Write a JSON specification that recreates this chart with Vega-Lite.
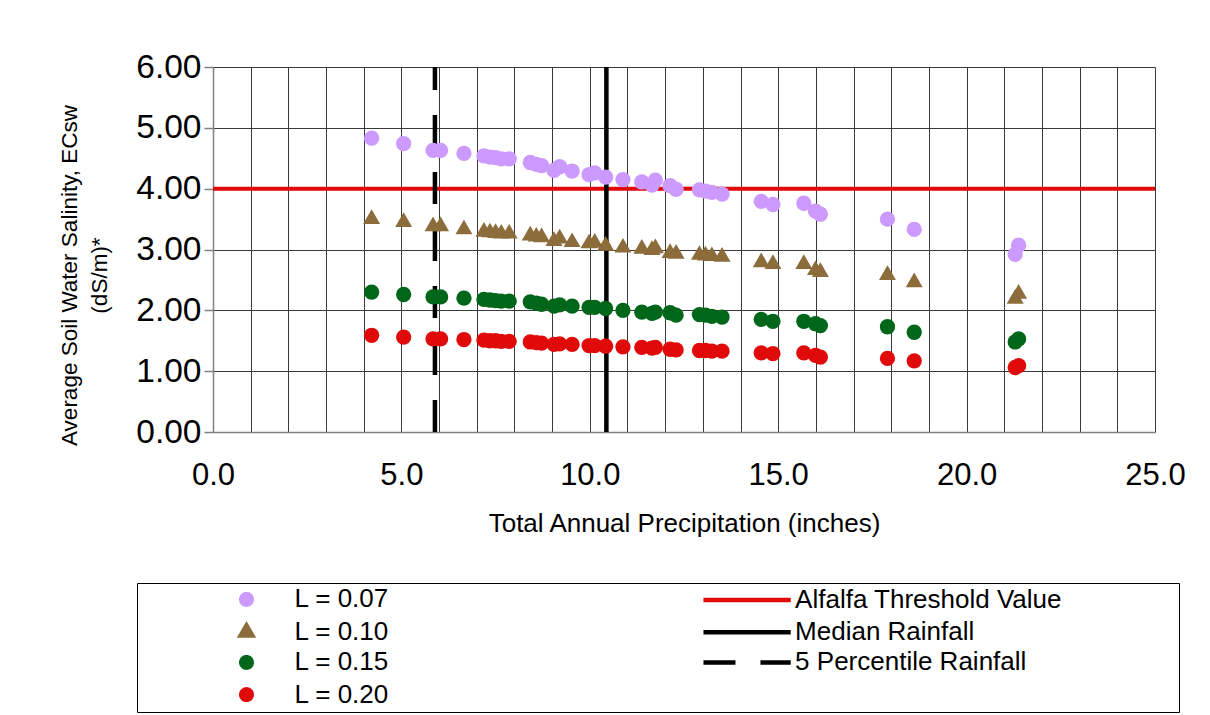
{
  "$schema": "https://vega.github.io/schema/vega-lite/v6.json",
  "width": 942,
  "height": 365,
  "autosize": {"type": "none"},
  "padding": {"left": 213, "top": 67, "right": 55, "bottom": 283},
  "background": "white",
  "config": {"font": "Liberation Sans", "view": {"stroke": null}},
  "datasets": {
    "hrule": [{"series": "Alfalfa Threshold Value", "ecsw": 4}],
    "vrule": [{"series": "Median Rainfall", "precip": 10.44}, {"series": "5 Percentile Rainfall", "precip": 5.89}],
    "pts": [
      {"series": "L = 0.07", "precip": 4.21, "ecsw": 4.83},
      {"series": "L = 0.07", "precip": 5.06, "ecsw": 4.74},
      {"series": "L = 0.07", "precip": 5.84, "ecsw": 4.63},
      {"series": "L = 0.07", "precip": 6.04, "ecsw": 4.63},
      {"series": "L = 0.07", "precip": 6.66, "ecsw": 4.58},
      {"series": "L = 0.07", "precip": 7.19, "ecsw": 4.54},
      {"series": "L = 0.07", "precip": 7.35, "ecsw": 4.52},
      {"series": "L = 0.07", "precip": 7.5, "ecsw": 4.51},
      {"series": "L = 0.07", "precip": 7.65, "ecsw": 4.49},
      {"series": "L = 0.07", "precip": 7.86, "ecsw": 4.49},
      {"series": "L = 0.07", "precip": 8.42, "ecsw": 4.43},
      {"series": "L = 0.07", "precip": 8.58, "ecsw": 4.4},
      {"series": "L = 0.07", "precip": 8.72, "ecsw": 4.38},
      {"series": "L = 0.07", "precip": 9.05, "ecsw": 4.3},
      {"series": "L = 0.07", "precip": 9.2, "ecsw": 4.36},
      {"series": "L = 0.07", "precip": 9.53, "ecsw": 4.29},
      {"series": "L = 0.07", "precip": 9.98, "ecsw": 4.23},
      {"series": "L = 0.07", "precip": 10.13, "ecsw": 4.26},
      {"series": "L = 0.07", "precip": 10.42, "ecsw": 4.19},
      {"series": "L = 0.07", "precip": 10.88, "ecsw": 4.15},
      {"series": "L = 0.07", "precip": 11.38, "ecsw": 4.11},
      {"series": "L = 0.07", "precip": 11.65, "ecsw": 4.06},
      {"series": "L = 0.07", "precip": 11.74, "ecsw": 4.14},
      {"series": "L = 0.07", "precip": 12.13, "ecsw": 4.05},
      {"series": "L = 0.07", "precip": 12.29, "ecsw": 3.99},
      {"series": "L = 0.07", "precip": 12.91, "ecsw": 3.98},
      {"series": "L = 0.07", "precip": 13.07, "ecsw": 3.96},
      {"series": "L = 0.07", "precip": 13.24, "ecsw": 3.94},
      {"series": "L = 0.07", "precip": 13.51, "ecsw": 3.91},
      {"series": "L = 0.07", "precip": 14.55, "ecsw": 3.79},
      {"series": "L = 0.07", "precip": 14.86, "ecsw": 3.74},
      {"series": "L = 0.07", "precip": 15.68, "ecsw": 3.76},
      {"series": "L = 0.07", "precip": 15.99, "ecsw": 3.63},
      {"series": "L = 0.07", "precip": 16.12, "ecsw": 3.58},
      {"series": "L = 0.07", "precip": 17.9, "ecsw": 3.5},
      {"series": "L = 0.07", "precip": 18.61, "ecsw": 3.33},
      {"series": "L = 0.07", "precip": 21.29, "ecsw": 2.92},
      {"series": "L = 0.07", "precip": 21.38, "ecsw": 3.07},
      {"series": "L = 0.10", "precip": 4.21, "ecsw": 3.5},
      {"series": "L = 0.10", "precip": 5.06, "ecsw": 3.45},
      {"series": "L = 0.10", "precip": 5.84, "ecsw": 3.38},
      {"series": "L = 0.10", "precip": 6.04, "ecsw": 3.38},
      {"series": "L = 0.10", "precip": 6.66, "ecsw": 3.33},
      {"series": "L = 0.10", "precip": 7.19, "ecsw": 3.29},
      {"series": "L = 0.10", "precip": 7.35, "ecsw": 3.28},
      {"series": "L = 0.10", "precip": 7.5, "ecsw": 3.27},
      {"series": "L = 0.10", "precip": 7.65, "ecsw": 3.26},
      {"series": "L = 0.10", "precip": 7.86, "ecsw": 3.26},
      {"series": "L = 0.10", "precip": 8.42, "ecsw": 3.23},
      {"series": "L = 0.10", "precip": 8.58, "ecsw": 3.21},
      {"series": "L = 0.10", "precip": 8.72, "ecsw": 3.2},
      {"series": "L = 0.10", "precip": 9.05, "ecsw": 3.14},
      {"series": "L = 0.10", "precip": 9.2, "ecsw": 3.18},
      {"series": "L = 0.10", "precip": 9.53, "ecsw": 3.12},
      {"series": "L = 0.10", "precip": 9.98, "ecsw": 3.1},
      {"series": "L = 0.10", "precip": 10.13, "ecsw": 3.11},
      {"series": "L = 0.10", "precip": 10.42, "ecsw": 3.06},
      {"series": "L = 0.10", "precip": 10.88, "ecsw": 3.03},
      {"series": "L = 0.10", "precip": 11.38, "ecsw": 3.01},
      {"series": "L = 0.10", "precip": 11.65, "ecsw": 2.99},
      {"series": "L = 0.10", "precip": 11.74, "ecsw": 3.02},
      {"series": "L = 0.10", "precip": 12.13, "ecsw": 2.94},
      {"series": "L = 0.10", "precip": 12.29, "ecsw": 2.93},
      {"series": "L = 0.10", "precip": 12.91, "ecsw": 2.91},
      {"series": "L = 0.10", "precip": 13.07, "ecsw": 2.9},
      {"series": "L = 0.10", "precip": 13.24, "ecsw": 2.89},
      {"series": "L = 0.10", "precip": 13.51, "ecsw": 2.88},
      {"series": "L = 0.10", "precip": 14.55, "ecsw": 2.79},
      {"series": "L = 0.10", "precip": 14.86, "ecsw": 2.76},
      {"series": "L = 0.10", "precip": 15.68, "ecsw": 2.76},
      {"series": "L = 0.10", "precip": 15.99, "ecsw": 2.66},
      {"series": "L = 0.10", "precip": 16.12, "ecsw": 2.63},
      {"series": "L = 0.10", "precip": 17.9, "ecsw": 2.58},
      {"series": "L = 0.10", "precip": 18.61, "ecsw": 2.46},
      {"series": "L = 0.10", "precip": 21.29, "ecsw": 2.19},
      {"series": "L = 0.10", "precip": 21.38, "ecsw": 2.27},
      {"series": "L = 0.15", "precip": 4.21, "ecsw": 2.3},
      {"series": "L = 0.15", "precip": 5.06, "ecsw": 2.26},
      {"series": "L = 0.15", "precip": 5.84, "ecsw": 2.22},
      {"series": "L = 0.15", "precip": 6.04, "ecsw": 2.22},
      {"series": "L = 0.15", "precip": 6.66, "ecsw": 2.2},
      {"series": "L = 0.15", "precip": 7.19, "ecsw": 2.18},
      {"series": "L = 0.15", "precip": 7.35, "ecsw": 2.17},
      {"series": "L = 0.15", "precip": 7.5, "ecsw": 2.16},
      {"series": "L = 0.15", "precip": 7.65, "ecsw": 2.15},
      {"series": "L = 0.15", "precip": 7.86, "ecsw": 2.15},
      {"series": "L = 0.15", "precip": 8.42, "ecsw": 2.14},
      {"series": "L = 0.15", "precip": 8.58, "ecsw": 2.12},
      {"series": "L = 0.15", "precip": 8.72, "ecsw": 2.1},
      {"series": "L = 0.15", "precip": 9.05, "ecsw": 2.07},
      {"series": "L = 0.15", "precip": 9.2, "ecsw": 2.09},
      {"series": "L = 0.15", "precip": 9.53, "ecsw": 2.07},
      {"series": "L = 0.15", "precip": 9.98, "ecsw": 2.05},
      {"series": "L = 0.15", "precip": 10.13, "ecsw": 2.05},
      {"series": "L = 0.15", "precip": 10.42, "ecsw": 2.03},
      {"series": "L = 0.15", "precip": 10.88, "ecsw": 2.0},
      {"series": "L = 0.15", "precip": 11.38, "ecsw": 1.97},
      {"series": "L = 0.15", "precip": 11.65, "ecsw": 1.95},
      {"series": "L = 0.15", "precip": 11.74, "ecsw": 1.97},
      {"series": "L = 0.15", "precip": 12.13, "ecsw": 1.96},
      {"series": "L = 0.15", "precip": 12.29, "ecsw": 1.92},
      {"series": "L = 0.15", "precip": 12.91, "ecsw": 1.93},
      {"series": "L = 0.15", "precip": 13.07, "ecsw": 1.92},
      {"series": "L = 0.15", "precip": 13.24, "ecsw": 1.9},
      {"series": "L = 0.15", "precip": 13.51, "ecsw": 1.89},
      {"series": "L = 0.15", "precip": 14.55, "ecsw": 1.85},
      {"series": "L = 0.15", "precip": 14.86, "ecsw": 1.82},
      {"series": "L = 0.15", "precip": 15.68, "ecsw": 1.82},
      {"series": "L = 0.15", "precip": 15.99, "ecsw": 1.78},
      {"series": "L = 0.15", "precip": 16.12, "ecsw": 1.75},
      {"series": "L = 0.15", "precip": 17.9, "ecsw": 1.73},
      {"series": "L = 0.15", "precip": 18.61, "ecsw": 1.64},
      {"series": "L = 0.15", "precip": 21.29, "ecsw": 1.48},
      {"series": "L = 0.15", "precip": 21.38, "ecsw": 1.53},
      {"series": "L = 0.20", "precip": 4.21, "ecsw": 1.59},
      {"series": "L = 0.20", "precip": 5.06, "ecsw": 1.56},
      {"series": "L = 0.20", "precip": 5.84, "ecsw": 1.53},
      {"series": "L = 0.20", "precip": 6.04, "ecsw": 1.53},
      {"series": "L = 0.20", "precip": 6.66, "ecsw": 1.52},
      {"series": "L = 0.20", "precip": 7.19, "ecsw": 1.51},
      {"series": "L = 0.20", "precip": 7.35, "ecsw": 1.5},
      {"series": "L = 0.20", "precip": 7.5, "ecsw": 1.5},
      {"series": "L = 0.20", "precip": 7.65, "ecsw": 1.49},
      {"series": "L = 0.20", "precip": 7.86, "ecsw": 1.49},
      {"series": "L = 0.20", "precip": 8.42, "ecsw": 1.48},
      {"series": "L = 0.20", "precip": 8.58, "ecsw": 1.47},
      {"series": "L = 0.20", "precip": 8.72, "ecsw": 1.46},
      {"series": "L = 0.20", "precip": 9.05, "ecsw": 1.44},
      {"series": "L = 0.20", "precip": 9.2, "ecsw": 1.45},
      {"series": "L = 0.20", "precip": 9.53, "ecsw": 1.44},
      {"series": "L = 0.20", "precip": 9.98, "ecsw": 1.42},
      {"series": "L = 0.20", "precip": 10.13, "ecsw": 1.42},
      {"series": "L = 0.20", "precip": 10.42, "ecsw": 1.41},
      {"series": "L = 0.20", "precip": 10.88, "ecsw": 1.4},
      {"series": "L = 0.20", "precip": 11.38, "ecsw": 1.39},
      {"series": "L = 0.20", "precip": 11.65, "ecsw": 1.38},
      {"series": "L = 0.20", "precip": 11.74, "ecsw": 1.39},
      {"series": "L = 0.20", "precip": 12.13, "ecsw": 1.36},
      {"series": "L = 0.20", "precip": 12.29, "ecsw": 1.35},
      {"series": "L = 0.20", "precip": 12.91, "ecsw": 1.34},
      {"series": "L = 0.20", "precip": 13.07, "ecsw": 1.34},
      {"series": "L = 0.20", "precip": 13.24, "ecsw": 1.33},
      {"series": "L = 0.20", "precip": 13.51, "ecsw": 1.33},
      {"series": "L = 0.20", "precip": 14.55, "ecsw": 1.3},
      {"series": "L = 0.20", "precip": 14.86, "ecsw": 1.29},
      {"series": "L = 0.20", "precip": 15.68, "ecsw": 1.3},
      {"series": "L = 0.20", "precip": 15.99, "ecsw": 1.26},
      {"series": "L = 0.20", "precip": 16.12, "ecsw": 1.23},
      {"series": "L = 0.20", "precip": 17.9, "ecsw": 1.21},
      {"series": "L = 0.20", "precip": 18.61, "ecsw": 1.17},
      {"series": "L = 0.20", "precip": 21.29, "ecsw": 1.06},
      {"series": "L = 0.20", "precip": 21.38, "ecsw": 1.09}
    ]
  },
  "layer": [
    {
      "data": {"name": "hrule"},
      "mark": {"type": "rule", "strokeWidth": 4},
      "encoding": {
        "y": {
          "field": "ecsw", "type": "quantitative",
          "scale": {"domain": [0, 6], "nice": false},
          "axis": {
            "values": [0, 1, 2, 3, 4, 5, 6], "format": ".2f",
            "grid": true, "gridColor": "#3a3a3a", "gridOpacity": 1, "gridWidth": 1,
            "domainColor": "#808080", "domainWidth": 1.5, "tickColor": "#808080", "tickSize": 9, "tickWidth": 1.5,
            "labelFontSize": 33.5, "labelColor": "#000", "labelPadding": 3, "labelFont": "Liberation Sans",
            "title": ["Average Soil Water Salinity, ECsw", "(dS/m)*"], "titleFontSize": 22.5, "titleFontWeight": "normal",
            "titleColor": "#000", "titlePadding": 24, "titleLineHeight": 30, "titleFont": "Liberation Sans", "titleY": 208
          }
        },
        "color": {"field": "series", "type": "nominal", "scale": {"domain": ["L = 0.07", "L = 0.10", "L = 0.15", "L = 0.20", "Alfalfa Threshold Value", "Median Rainfall", "5 Percentile Rainfall"], "range": ["#CC99FF", "#8B6C3A", "#00661A", "#E00A0A", "#E00A0A", "#000000", "#000000"]}},
        "strokeDash": {"field": "series", "type": "nominal", "scale": {"domain": ["L = 0.07", "L = 0.10", "L = 0.15", "L = 0.20", "Alfalfa Threshold Value", "Median Rainfall", "5 Percentile Rainfall"], "range": [[1, 0], [1, 0], [1, 0], [1, 0], [1, 0], [1, 0], [32, 25]]}}
      }
    },
    {
      "data": {"name": "vrule"},
      "mark": {"type": "rule", "strokeWidth": 4.5, "strokeDashOffset": 9},
      "encoding": {
        "x": {
          "field": "precip", "type": "quantitative",
          "scale": {"domain": [0, 25], "nice": false},
          "axis": {
            "values": [0, 1, 2, 3, 4, 5, 6, 7, 8, 9, 10, 11, 12, 13, 14, 15, 16, 17, 18, 19, 20, 21, 22, 23, 24, 25],
            "labelExpr": "datum.value % 5 === 0 ? format(datum.value, '.1f') : ''",
            "labelFlush": false, "labelOverlap": false,
            "grid": true, "gridColor": "#3a3a3a", "gridOpacity": 1, "gridWidth": 1,
            "domainColor": "#808080", "domainWidth": 1.5, "ticks": false,
            "labelFontSize": 31, "labelColor": "#000", "labelPadding": 28, "labelFont": "Liberation Sans",
            "title": "Total Annual Precipitation (inches)", "titleFontSize": 26, "titleFontWeight": "normal",
            "titleColor": "#000", "titlePadding": 20, "titleFont": "Liberation Sans"
          }
        },
        "color": {"field": "series", "type": "nominal", "scale": {"domain": ["L = 0.07", "L = 0.10", "L = 0.15", "L = 0.20", "Alfalfa Threshold Value", "Median Rainfall", "5 Percentile Rainfall"], "range": ["#CC99FF", "#8B6C3A", "#00661A", "#E00A0A", "#E00A0A", "#000000", "#000000"]}},
        "strokeDash": {"field": "series", "type": "nominal", "scale": {"domain": ["L = 0.07", "L = 0.10", "L = 0.15", "L = 0.20", "Alfalfa Threshold Value", "Median Rainfall", "5 Percentile Rainfall"], "range": [[1, 0], [1, 0], [1, 0], [1, 0], [1, 0], [1, 0], [32, 25]]}}
      }
    },
    {
      "data": {"name": "pts"},
      "mark": {"type": "point", "filled": true, "opacity": 1, "size": 234},
      "encoding": {
        "x": {
          "field": "precip", "type": "quantitative",
          "scale": {"domain": [0, 25], "nice": false},
          "axis": {
            "values": [0, 1, 2, 3, 4, 5, 6, 7, 8, 9, 10, 11, 12, 13, 14, 15, 16, 17, 18, 19, 20, 21, 22, 23, 24, 25],
            "labelExpr": "datum.value % 5 === 0 ? format(datum.value, '.1f') : ''",
            "labelFlush": false, "labelOverlap": false,
            "grid": true, "gridColor": "#3a3a3a", "gridOpacity": 1, "gridWidth": 1,
            "domainColor": "#808080", "domainWidth": 1.5, "ticks": false,
            "labelFontSize": 31, "labelColor": "#000", "labelPadding": 28, "labelFont": "Liberation Sans",
            "title": "Total Annual Precipitation (inches)", "titleFontSize": 26, "titleFontWeight": "normal",
            "titleColor": "#000", "titlePadding": 20, "titleFont": "Liberation Sans"
          }
        },
        "y": {
          "field": "ecsw", "type": "quantitative",
          "scale": {"domain": [0, 6], "nice": false},
          "axis": {
            "values": [0, 1, 2, 3, 4, 5, 6], "format": ".2f",
            "grid": true, "gridColor": "#3a3a3a", "gridOpacity": 1, "gridWidth": 1,
            "domainColor": "#808080", "domainWidth": 1.5, "tickColor": "#808080", "tickSize": 9, "tickWidth": 1.5,
            "labelFontSize": 33.5, "labelColor": "#000", "labelPadding": 3, "labelFont": "Liberation Sans",
            "title": ["Average Soil Water Salinity, ECsw", "(dS/m)*"], "titleFontSize": 22.5, "titleFontWeight": "normal",
            "titleColor": "#000", "titlePadding": 24, "titleLineHeight": 30, "titleFont": "Liberation Sans", "titleY": 208
          }
        },
        "color": {
          "field": "series", "type": "nominal",
          "scale": {"domain": ["L = 0.07", "L = 0.10", "L = 0.15", "L = 0.20", "Alfalfa Threshold Value", "Median Rainfall", "5 Percentile Rainfall"], "range": ["#CC99FF", "#8B6C3A", "#00661A", "#E00A0A", "#E00A0A", "#000000", "#000000"]},
          "legend": {
            "orient": "none", "legendX": -76, "legendY": 516,
            "columns": 2, "direction": "vertical",
            "title": "\u00a0", "titleOrient": "left", "titlePadding": 93.5, "titleFontSize": 8,
            "strokeColor": "#000", "padding": 3, "fillColor": "white",
            "labelFont": "Liberation Sans", "labelFontSize": 26, "labelColor": "#000", "labelLimit": 600,
            "labelExpr": "datum.label === 'Alfalfa Threshold Value' ? datum.label + '\u2800\u2800\u2800\u2800\u2800\u2800' : datum.label",
            "rowPadding": 2.2, "columnPadding": 304.6,
            "symbolOffset": 0, "labelOffset": 35, "symbolSize": 110, "symbolStrokeWidth": 4.5,
            "encode": {
              "symbols": {
                "update": {
                  "fill": {"signal": "indexof(['Alfalfa Threshold Value','Median Rainfall','5 Percentile Rainfall'], datum.value) >= 0 ? 'transparent' : scale('color', datum.value)"},
                  "stroke": {"signal": "indexof(['Alfalfa Threshold Value','Median Rainfall','5 Percentile Rainfall'], datum.value) >= 0 ? scale('color', datum.value) : 'transparent'"},
                  "strokeWidth": {"value": 4.5},
                  "opacity": {"value": 1}
                }
              }
            }
          }
        },
        "shape": {
          "field": "series", "type": "nominal",
          "scale": {"domain": ["L = 0.07", "L = 0.10", "L = 0.15", "L = 0.20", "Alfalfa Threshold Value", "Median Rainfall", "5 Percentile Rainfall"], "range": ["circle", "M0,-1.28L1.11,0.64L-1.11,0.64Z", "circle", "circle", "M-8.32,0H8.32", "M-8.32,0H8.32", "M-8.32,0H8.32"]}
        }
      }
    }
  ]
}
